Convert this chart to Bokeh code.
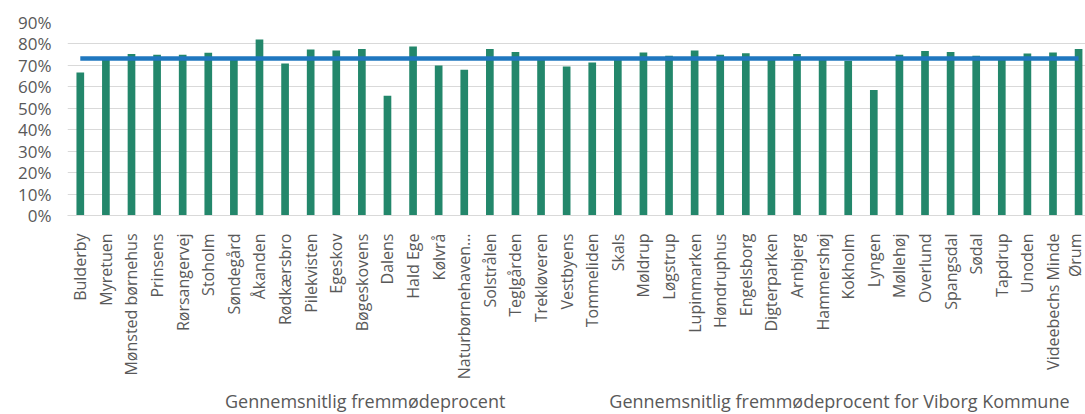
import math
from bokeh.plotting import figure
from bokeh.layouts import column
from bokeh.models import (Range1d, FixedTicker, NumeralTickFormatter, Legend,
                          LegendItem, ColumnDataSource)
from bokeh.embed import file_html
from bokeh.resources import INLINE

# ---- data ----
institutions = [
    "Bulderby", "Myretuen", "Mønsted børnehus", "Prinsens", "Rørsangervej",
    "Stoholm", "Søndegård", "Åkanden", "Rødkærsbro", "Pilekvisten",
    "Egeskov", "Bøgeskovens", "Dalens", "Hald Ege", "Kølvrå",
    "Naturbørnehaven…", "Solstrålen", "Teglgården", "Trekløveren", "Vestbyens",
    "Tommeliden", "Skals", "Møldrup", "Løgstrup", "Lupinmarken",
    "Høndruphus", "Engelsborg", "Digterparken", "Arnbjerg", "Hammershøj",
    "Kokholm", "Lyngen", "Møllehøj", "Overlund", "Spangsdal",
    "Sødal", "Tapdrup", "Unoden", "Videebechs Minde", "Ørum",
]
attendance = [
    0.667, 0.733, 0.753, 0.750, 0.750,
    0.759, 0.734, 0.821, 0.709, 0.774,
    0.770, 0.776, 0.559, 0.788, 0.700,
    0.680, 0.776, 0.763, 0.730, 0.695,
    0.714, 0.733, 0.760, 0.745, 0.770,
    0.750, 0.757, 0.728, 0.753, 0.730,
    0.722, 0.585, 0.750, 0.767, 0.763,
    0.745, 0.730, 0.756, 0.760, 0.776,
]
municipality_avg = 0.732
y_ticks = [0.0, 0.1, 0.2, 0.3, 0.4, 0.5, 0.6, 0.7, 0.8, 0.9]

bar_label = "Gennemsnitlig fremmødeprocent"
line_label = "Gennemsnitlig fremmødeprocent for Viborg Kommune"

GREEN = "#23876B"
BLUE = "#1F77BF"
TEXT = "#595959"
GRID = "#D9D9D9"
FONT = "Open Sans"

idx = list(range(len(institutions)))
src = ColumnDataSource(dict(x=idx, y=attendance, name=institutions))

p = figure(width=1085, height=388, output_backend="svg",
           toolbar_location=None,
           x_range=Range1d(-0.5, 39.27), y_range=Range1d(0, 0.9),
           min_border_left=67, min_border_right=0, min_border_top=22,
           min_border_bottom=173)
p.outline_line_color = None
p.background_fill_color = "white"
p.border_fill_color = "white"

p.vbar(x="x", top="y", width=0.30, source=src, fill_color=GREEN,
       line_color=None)
p.line(x=[idx[0], idx[-1]], y=[municipality_avg, municipality_avg],
       line_color=BLUE, line_width=4.5)

# x axis
p.xaxis.ticker = FixedTicker(ticks=idx)
p.xaxis.major_label_overrides = {i: n for i, n in zip(idx, institutions)}
p.xaxis.major_label_orientation = math.pi / 2
p.xaxis.major_tick_line_color = None
p.xaxis.minor_tick_line_color = None
p.xaxis.axis_line_color = GRID
p.xaxis.major_label_standoff = 12
p.xaxis.major_label_text_font = FONT
p.xaxis.major_label_text_font_size = "16px"
p.xaxis.major_label_text_color = TEXT
p.xgrid.visible = False

# y axis
p.yaxis.ticker = FixedTicker(ticks=y_ticks)
p.yaxis.formatter = NumeralTickFormatter(format="0%")
p.yaxis.axis_line_color = None
p.yaxis.major_tick_line_color = None
p.yaxis.minor_tick_line_color = None
p.yaxis.major_label_standoff = 10
p.yaxis.major_label_text_font = FONT
p.yaxis.major_label_text_font_size = "17px"
p.yaxis.major_label_text_color = TEXT
p.ygrid.ticker = FixedTicker(ticks=y_ticks)
p.ygrid.grid_line_color = GRID
p.ygrid.grid_line_width = 1.2

# ---- legend strip below the chart ----
lg = figure(width=1085, height=26, output_backend="svg", toolbar_location=None,
            x_range=Range1d(0, 1), y_range=Range1d(0, 1),
            x_axis_type=None, y_axis_type=None,
            min_border_left=0, min_border_right=0, min_border_top=0,
            min_border_bottom=0)
lg.outline_line_color = None
lg.xgrid.visible = False
lg.ygrid.visible = False
key_bar = lg.vbar(x=[], top=[], width=0.3, fill_color=GREEN, line_color=None)
key_line = lg.line(x=[], y=[], line_color=BLUE, line_width=3.5)

legend = Legend(items=[LegendItem(label=bar_label, renderers=[key_bar]),
                       LegendItem(label=line_label, renderers=[key_line])],
                orientation="horizontal", location=(107, 1),
                padding=0, margin=0, spacing=53, glyph_width=46,
                glyph_height=9, label_standoff=5,
                label_text_font=FONT, label_text_font_size="18px",
                label_text_color=TEXT, border_line_color=None,
                background_fill_alpha=0)
lg.add_layout(legend, "center")

layout = column(p, lg, spacing=0)
open("out.html", "w").write(file_html(layout, INLINE))
